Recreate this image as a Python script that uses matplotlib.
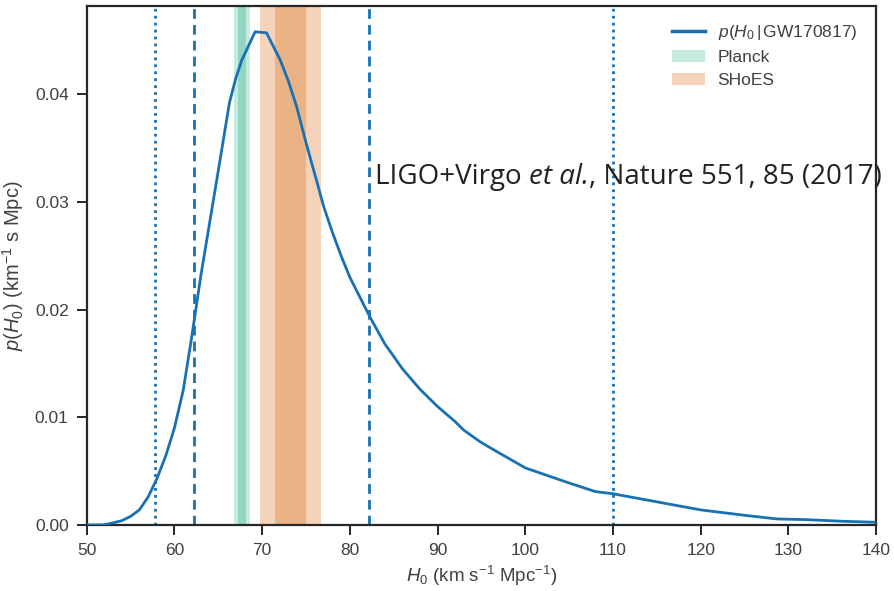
import matplotlib
matplotlib.use("Agg")
import matplotlib.pyplot as plt
from matplotlib.patches import Patch
from matplotlib.lines import Line2D
from matplotlib.transforms import offset_copy

# Posterior on the Hubble constant
h0 = [50, 52, 53, 54, 55, 56, 57, 58, 59, 60, 61, 62, 63, 64, 65, 66.27, 67, 67.7,
      69.2, 70.5, 72.05, 73, 73.95, 75, 76.2, 77, 78, 79, 80, 82.3, 84, 86, 88,
      90, 92, 93, 94.9, 97, 100, 102.5, 105, 108, 110, 114, 118, 120, 125,
      128.7, 132, 136, 140]
p_h0 = [0.0, 0.00002, 0.0002, 0.0004, 0.0008, 0.0014, 0.0026, 0.0043, 0.0064,
        0.0090, 0.0125, 0.0176, 0.0231, 0.0280, 0.0329, 0.0392, 0.0415, 0.0432,
        0.0458, 0.0457, 0.0432, 0.0412, 0.0388, 0.0355, 0.0320, 0.0296, 0.0272,
        0.0250, 0.0230, 0.0193, 0.0168, 0.0145, 0.0126, 0.0110, 0.0096, 0.0088,
        0.0077, 0.0067, 0.0053, 0.0046, 0.0039, 0.0031, 0.0029, 0.0023, 0.0017,
        0.0014, 0.0009, 0.00056, 0.0005, 0.00035, 0.00025]

# Credible interval bounds (68% dashed, 95% dotted)
ci68 = [62.2, 82.2]
ci95 = [57.8, 110.0]

# External measurements: centre, 1 sigma
planck = (67.74, 0.46)
shoes = (73.24, 1.74)

blue = "#1771b3"
planck_dark, planck_light = "#93d6c1", "#c6ebdf"
shoes_dark, shoes_light = "#e9b385", "#f5d3ba"
ink = "#262626"
grey = "#404040"

plt.rcParams["font.family"] = ["Liberation Sans", "DejaVu Sans"]
plt.rcParams["mathtext.fontset"] = "custom"
plt.rcParams["mathtext.rm"] = "Liberation Sans"
plt.rcParams["mathtext.it"] = "Liberation Sans:italic"

fig = plt.figure(figsize=(8.94, 5.91), dpi=100)
ax = fig.add_axes([0.097, 0.1117, 0.883, 0.8783])

for c, s, dark, light in [(planck[0], planck[1], planck_dark, planck_light),
                          (shoes[0], shoes[1], shoes_dark, shoes_light)]:
    ax.axvspan(c - 2 * s, c + 2 * s, color=light, lw=0, zorder=1)
    ax.axvspan(c - s, c + s, color=dark, lw=0, zorder=1)

ax.plot(h0, p_h0, color=blue, lw=2.0, zorder=3)
for v in ci68:
    ax.axvline(v, color=blue, lw=2.0, ls=(0, (3.5, 2.2)), zorder=2)
for v in ci95:
    ax.axvline(v, color=blue, lw=2.0, ls=(0, (1, 1.5)), zorder=2)

ax.set_xlim(50, 140)
ax.set_ylim(0, 0.0482)
ax.set_xticks(range(50, 141, 10))
ax.set_yticks([0.0, 0.01, 0.02, 0.03, 0.04])
ax.set_yticklabels(["0.00", "0.01", "0.02", "0.03", "0.04"])

for sp in ax.spines.values():
    sp.set_color(ink)
    sp.set_linewidth(1.6)
ax.tick_params(direction="out", length=7, width=1.4, color=ink,
               labelsize=12.5, labelcolor=grey, pad=6)

ax.set_xlabel(r"$H_0$ (km s$^{-1}$ Mpc$^{-1}$)", fontsize=13.5, color=grey, labelpad=4)
ax.set_ylabel(r"$p(H_0)$ (km$^{-1}$ s Mpc)", fontsize=14.5, color=grey, labelpad=6)

handles = [Line2D([], [], color=blue, lw=2.5),
           Patch(facecolor=planck_light, edgecolor="none"),
           Patch(facecolor=shoes_light, edgecolor="none")]
labels = [r"$p(H_0\,|\,$GW170817)", "Planck", "SHoES"]
leg = ax.legend(handles, labels, loc="upper right", frameon=False, fontsize=12.5,
                handlelength=1.9, handletextpad=0.7, labelspacing=0.45,
                borderaxespad=0.6, bbox_to_anchor=(0.998, 1.0))
for t in leg.get_texts():
    t.set_color(grey)

# Citation line, with the italic part set in its own run
parts = [("LIGO+Virgo ", "normal"), ("et al.", "italic"),
         (", Nature 551, 85 (2017)", "normal")]
fig.canvas.draw()
renderer = fig.canvas.get_renderer()
x0, y0 = 375 / 894, 1 - 184 / 591
trans = fig.transFigure
for txt, style in parts:
    t = fig.text(x0, y0, txt, fontsize=20, color="#222222", ha="left",
                 va="baseline", family="Open Sans", style=style,
                 transform=trans, zorder=10)
    w = t.get_window_extent(renderer).width
    trans = offset_copy(trans, fig=fig, x=w * 72 / fig.dpi, y=0, units="points")

fig.savefig("out.png", dpi=100)
